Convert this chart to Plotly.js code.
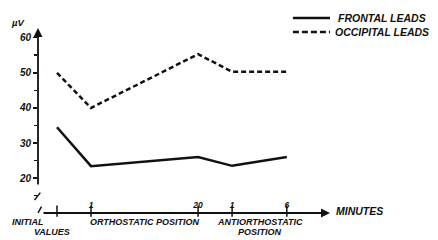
<!DOCTYPE html>
<html><head><meta charset="utf-8">
<script src="https://cdn.plot.ly/plotly-3.0.1.min.js"></script>
<style>html,body{margin:0;padding:0;background:#fff;}#chart{width:438px;height:240px;}</style>
</head><body><div id="chart"></div>
<script>
// Time positions along the x axis (initial, orthostatic 1 & 20 min, antiorthostatic 1 & 6 min)
var xPositions = [0, 1, 4.15, 5.15, 6.76];
var xTickLabels = ["", "1", "20", "1", "6"];
var frontalLeads = [34.5, 23.4, 26, 23.5, 26];
var occipitalLeads = [50, 40, 55.3, 50.3, 50.3];
var yTickVals = [20, 30, 40, 50, 60];
var yMinorTickVals = [15, 25, 35, 45, 55];
var seriesNames = ["FRONTAL LEADS", "OCCIPITAL LEADS"];
var phaseLabels = ["INITIAL", "VALUES", "ORTHOSTATIC POSITION", "ANTIORTHOSTATIC", "POSITION", "MINUTES", "\u00b5V"];

var FF = "Liberation Sans, Arial, sans-serif";
function f(sz){return {family: FF, size: sz, color: "#111", weight: "bold", style: "italic"};}

var traces = [
  {x: xPositions, y: frontalLeads, name: seriesNames[0], mode: "lines", type: "scatter",
   line: {color: "#111", width: 2.5}},
  {x: xPositions, y: occipitalLeads, name: seriesNames[1], mode: "lines", type: "scatter",
   line: {color: "#111", width: 2.5, dash: "5px,3px"}}
];

var shapes = xPositions.map(function(v){
  return {type: "line", xref: "x", yref: "paper", x0: v, x1: v, y0: -0.02, y1: 0.04,
          line: {color: "#111", width: 1.5}};
});
// axis break marks
shapes.push({type:"line", xref:"paper", yref:"paper", x0:-0.012, x1:0.008, y0:0.07, y1:0.11, line:{color:"#111", width:1.5}});
shapes.push({type:"line", xref:"paper", yref:"paper", x0:0.0, x1:0.012, y0:0.0, y1:0.035, line:{color:"#111", width:1.5}});
// legend samples
shapes.push({type:"line", xref:"paper", yref:"paper", x0:0.873, x1:1.0, y0:1.054, y1:1.054, line:{color:"#111", width:2.5}});
shapes.push({type:"line", xref:"paper", yref:"paper", x0:0.873, x1:1.0, y0:0.978, y1:0.978, line:{color:"#111", width:2.5, dash:"6px,3px"}});

var annotations = [
  // y axis with arrow
  {xref:"paper", yref:"paper", x:0, y:1, ax:0, ay:158, text:"", showarrow:true,
   arrowhead:2, arrowsize:1, arrowwidth:1.8, arrowcolor:"#111"},
  // x axis with arrow
  {xref:"paper", yref:"paper", x:1, y:0, ax:-288, ay:0, text:"", showarrow:true,
   arrowhead:2, arrowsize:1, arrowwidth:1.8, arrowcolor:"#111"},
  {xref:"paper", yref:"paper", x:1.015, y:0.01, xanchor:"left", yanchor:"middle", text:phaseLabels[5], showarrow:false, font:f(10.5)},
  {xref:"paper", yref:"paper", x:-0.1, y:1.03, xanchor:"left", yanchor:"middle", text:phaseLabels[6], showarrow:false, font:f(9.5)},
  {xref:"paper", yref:"paper", x:-0.095, y:-0.048, xanchor:"left", yanchor:"middle", text:phaseLabels[0], showarrow:false, font:f(9)},
  {xref:"paper", yref:"paper", x:-0.02, y:-0.102, xanchor:"left", yanchor:"middle", text:phaseLabels[1], showarrow:false, font:f(9)},
  {xref:"paper", yref:"paper", x:0.366, y:-0.048, xanchor:"center", yanchor:"middle", text:phaseLabels[2], showarrow:false, font:f(9)},
  {xref:"paper", yref:"paper", x:0.76, y:-0.048, xanchor:"center", yanchor:"middle", text:phaseLabels[3], showarrow:false, font:f(9)},
  {xref:"paper", yref:"paper", x:0.76, y:-0.102, xanchor:"center", yanchor:"middle", text:phaseLabels[4], showarrow:false, font:f(9)},
  // legend texts
  {xref:"paper", yref:"paper", x:1.02, y:1.054, xanchor:"left", yanchor:"middle", text:seriesNames[0], showarrow:false, font:f(10.5)},
  {xref:"paper", yref:"paper", x:1.01, y:0.978, xanchor:"left", yanchor:"middle", text:seriesNames[1], showarrow:false, font:f(10.5)}
];

var layout = {
  width: 438, height: 240,
  margin: {l: 38, r: 108, t: 28, b: 27, pad: 0},
  paper_bgcolor: "#fff", plot_bgcolor: "#fff",
  showlegend: false,
  xaxis: {range: [-0.559, 8.03], showline: false, showgrid: false, zeroline: false, automargin: false,
          tickmode: "array", tickvals: xPositions, ticktext: xTickLabels,
          ticks: "", ticklabelposition: "inside", tickfont: f(8.5), fixedrange: true},
  yaxis: {range: [10.07, 62.75], showline: false, showgrid: false, zeroline: false, automargin: false,
          tickmode: "array", tickvals: yTickVals, ticks: "outside", ticklen: 4, tickwidth: 1.5, tickcolor: "#111",
          minor: {tickvals: yMinorTickVals, ticks: "outside", ticklen: 3, tickwidth: 1.5, tickcolor: "#111"},
          tickfont: f(10), fixedrange: true},
  shapes: shapes,
  annotations: annotations
};

Plotly.newPlot("chart", traces, layout, {staticPlot: true, displayModeBar: false});
</script></body></html>
